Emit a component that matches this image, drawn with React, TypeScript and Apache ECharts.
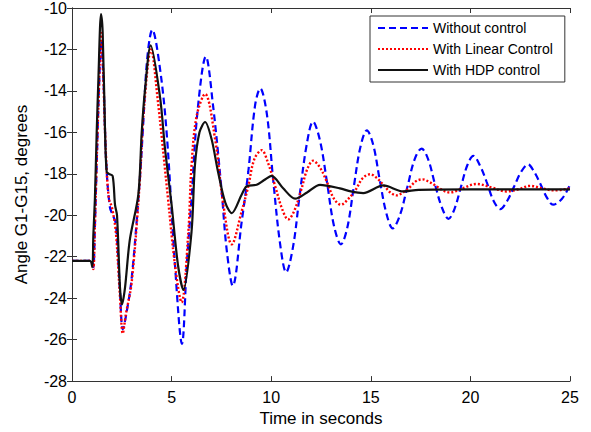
import React, { useEffect, useRef } from "react";
import * as echarts from "echarts";

const xTicks = [0, 5, 10, 15, 20, 25];
const yTicks = [-28, -26, -24, -22, -20, -18, -16, -14, -12, -10];

const seriesNames = ["Without control", "With Linear Control", "With HDP control"];

// Without control (blue dashed)
const tWithout = [0, 1.0, 1.07, 1.15, 1.25, 1.35, 1.47, 1.58, 1.72, 1.9, 2.05, 2.2, 2.4, 2.55, 2.72, 3.0, 3.41, 3.55, 3.78, 4.03, 4.4, 4.75, 5.17, 5.52, 5.76, 6.0, 6.3, 6.72, 7.08, 7.5, 7.77, 8.07, 8.52, 8.85, 9.19, 9.45, 9.78, 10.1, 10.45, 10.75, 11.1, 11.42, 11.78, 12.1, 12.45, 12.8, 13.15, 13.5, 13.82, 14.15, 14.48, 14.8, 15.12, 15.45, 15.78, 16.1, 16.46, 16.82, 17.2, 17.55, 17.88, 18.22, 18.56, 18.9, 19.2, 19.52, 19.84, 20.15, 20.48, 20.82, 21.16, 21.5, 21.85, 22.2, 22.55, 22.9, 23.2, 23.52, 23.84, 24.15, 24.6, 25.0];
const vWithout = [-22.2, -22.2, -22.5, -20.5, -17.2, -14.0, -11.6, -13.5, -17.5, -19.6, -20.0, -20.4, -23.5, -25.5, -24.8, -23.0, -18.2, -16.0, -12.4, -11.05, -12.8, -16.0, -22.4, -26.2, -22.4, -19.2, -15.0, -12.35, -14.7, -18.7, -21.7, -23.4, -20.3, -17.9, -14.7, -13.88, -15.1, -18.3, -21.4, -22.75, -21.5, -19.1, -16.6, -15.48, -16.4, -18.4, -20.5, -21.4, -20.6, -18.6, -16.7, -15.9, -16.6, -18.3, -19.9, -20.63, -20.0, -18.7, -17.3, -16.78, -17.3, -18.5, -19.6, -20.17, -19.7, -18.65, -17.6, -17.13, -17.6, -18.4, -19.3, -19.7, -19.3, -18.6, -17.9, -17.55, -17.9, -18.5, -19.15, -19.49, -19.2, -18.53];

// With Linear Control (red dotted)
const tLinear = [0, 1.0, 1.07, 1.15, 1.25, 1.35, 1.46, 1.56, 1.7, 1.85, 2.0, 2.2, 2.4, 2.55, 2.7, 3.0, 3.4, 3.6, 3.97, 4.3, 4.82, 5.17, 5.5, 5.84, 6.0, 6.26, 6.68, 7.18, 7.6, 8.02, 8.52, 8.85, 9.15, 9.52, 9.85, 10.2, 10.55, 10.85, 11.15, 11.5, 11.8, 12.1, 12.45, 12.8, 13.15, 13.5, 13.88, 14.25, 14.6, 14.97, 15.3, 15.65, 15.98, 16.3, 16.62, 16.95, 17.28, 17.6, 17.95, 18.3, 18.62, 18.97, 19.62, 20.3, 21.05, 21.8, 22.4, 23.0, 23.6, 24.2, 25.0];
const vLinear = [-22.2, -22.2, -22.6, -20.5, -17.0, -14.0, -11.2, -13.0, -17.0, -19.2, -19.6, -20.8, -23.8, -25.7, -24.8, -23.2, -18.4, -15.0, -12.0, -14.4, -19.2, -22.4, -24.2, -20.8, -17.6, -15.2, -14.15, -16.3, -19.5, -21.4, -19.8, -18.6, -17.3, -16.86, -17.5, -18.6, -19.7, -20.2, -19.8, -18.8, -17.8, -17.37, -17.7, -18.4, -19.2, -19.49, -19.2, -18.75, -18.2, -18.02, -18.2, -18.55, -18.9, -19.04, -18.9, -18.65, -18.35, -18.27, -18.4, -18.6, -18.8, -18.9, -18.7, -18.49, -18.65, -18.85, -18.75, -18.58, -18.7, -18.8, -18.7];

// With HDP control (black solid)
const tHDP = [0, 0.9, 1.02, 1.07, 1.15, 1.24, 1.32, 1.456, 1.54, 1.66, 1.74, 1.85, 2.04, 2.16, 2.26, 2.41, 2.51, 2.66, 2.9, 3.33, 3.5, 3.66, 3.95, 4.42, 4.67, 5.0, 5.32, 5.59, 6.0, 6.17, 6.4, 6.68, 7.0, 7.33, 7.7, 8.02, 8.52, 8.77, 9.27, 9.65, 10.02, 10.6, 11.2, 11.8, 12.45, 13.45, 14.0, 14.62, 15.63, 16.63, 17.4, 20.0, 25.0];
const vHDP = [-22.2, -22.2, -22.5, -21.0, -19.2, -16.0, -13.6, -10.3, -11.2, -16.0, -17.9, -18.0, -18.1, -19.5, -20.0, -23.5, -24.3, -23.5, -21.2, -19.0, -16.0, -14.0, -11.8, -14.3, -16.8, -19.5, -22.4, -23.6, -20.8, -17.6, -16.0, -15.5, -16.3, -17.9, -19.4, -19.9, -19.0, -18.6, -18.53, -18.3, -18.1, -18.7, -19.2, -18.9, -18.53, -18.7, -18.85, -18.93, -18.56, -18.85, -18.77, -18.75, -18.75];

const zip = (t: number[], v: number[]) => t.map((x, i) => [x, v[i]]);

const FONT = "'Liberation Sans', Arial, Helvetica, sans-serif";

export default function App() {
  const ref = useRef<HTMLDivElement>(null);
  useEffect(() => {
    if (!ref.current) return;
    const chart = echarts.init(ref.current, undefined, { renderer: "svg" });
    const axisLine = { show: true, lineStyle: { color: "#333", width: 1 } };
    const tick = { show: true, inside: true, length: 5, lineStyle: { color: "#333" } };
    chart.setOption({
      animation: false,
      backgroundColor: "#fff",
      textStyle: { fontFamily: FONT },
      grid: { left: 72, right: 21, top: 8, bottom: 47, containLabel: false },
      legend: {
        show: true,
        data: seriesNames,
        orient: "vertical",
        left: 370,
        top: 16,
        itemWidth: 50,
        itemHeight: 14,
        itemGap: 7,
        padding: [5, 12, 5, 7],
        backgroundColor: "#fff",
        borderColor: "#333",
        borderWidth: 1,
        borderRadius: 0,
        itemStyle: { opacity: 0 },
        textStyle: { fontSize: 14, color: "#000", fontFamily: FONT },
      },
      xAxis: [
        {
          type: "value",
          min: 0,
          max: 25,
          interval: 5,
          position: "bottom",
          name: "Time in seconds",
          nameLocation: "middle",
          nameGap: 23,
          nameTextStyle: { fontSize: 17, color: "#000", fontFamily: FONT },
          axisLine,
          axisTick: tick,
          axisLabel: { fontSize: 16, color: "#000", margin: 8, fontFamily: FONT },
          splitLine: { show: false },
        },
        {
          type: "value",
          min: 0,
          max: 25,
          interval: 5,
          position: "top",
          axisLine,
          axisTick: tick,
          axisLabel: { show: false },
          splitLine: { show: false },
        },
      ],
      yAxis: [
        {
          type: "value",
          min: yTicks[0],
          max: yTicks[yTicks.length - 1],
          interval: 2,
          position: "left",
          name: "Angle G1-G15, degrees",
          nameLocation: "middle",
          nameRotate: 90,
          nameGap: 42,
          nameTextStyle: { fontSize: 17, color: "#000", fontFamily: FONT },
          axisLine,
          axisTick: tick,
          axisLabel: { fontSize: 16, color: "#000", margin: 5, fontFamily: FONT },
          splitLine: { show: false },
        },
        {
          type: "value",
          min: yTicks[0],
          max: yTicks[yTicks.length - 1],
          interval: 2,
          position: "right",
          axisLine,
          axisTick: tick,
          axisLabel: { show: false },
          splitLine: { show: false },
        },
      ],
      series: [
        {
          name: seriesNames[0],
          type: "line",
          data: zip(tWithout, vWithout),
          symbol: "none",
          smooth: 0.35,
          color: "#0000ff",
          lineStyle: { color: "#0000ff", width: 2.2, type: [7, 4] },
          z: 1,
        },
        {
          name: seriesNames[1],
          type: "line",
          data: zip(tLinear, vLinear),
          symbol: "none",
          smooth: 0.35,
          color: "#ff0000",
          lineStyle: { color: "#ff0000", width: 2.4, type: [2, 2] },
          z: 2,
        },
        {
          name: seriesNames[2],
          type: "line",
          data: zip(tHDP, vHDP),
          symbol: "none",
          smooth: 0.3,
          color: "#000000",
          lineStyle: { color: "#111", width: 2.2, type: "solid" },
          z: 3,
        },
      ],
    });
    return () => chart.dispose();
  }, []);
  return <div ref={ref} style={{ width: 591, height: 432, position: "absolute", left: 0, top: 0 }} />;
}
